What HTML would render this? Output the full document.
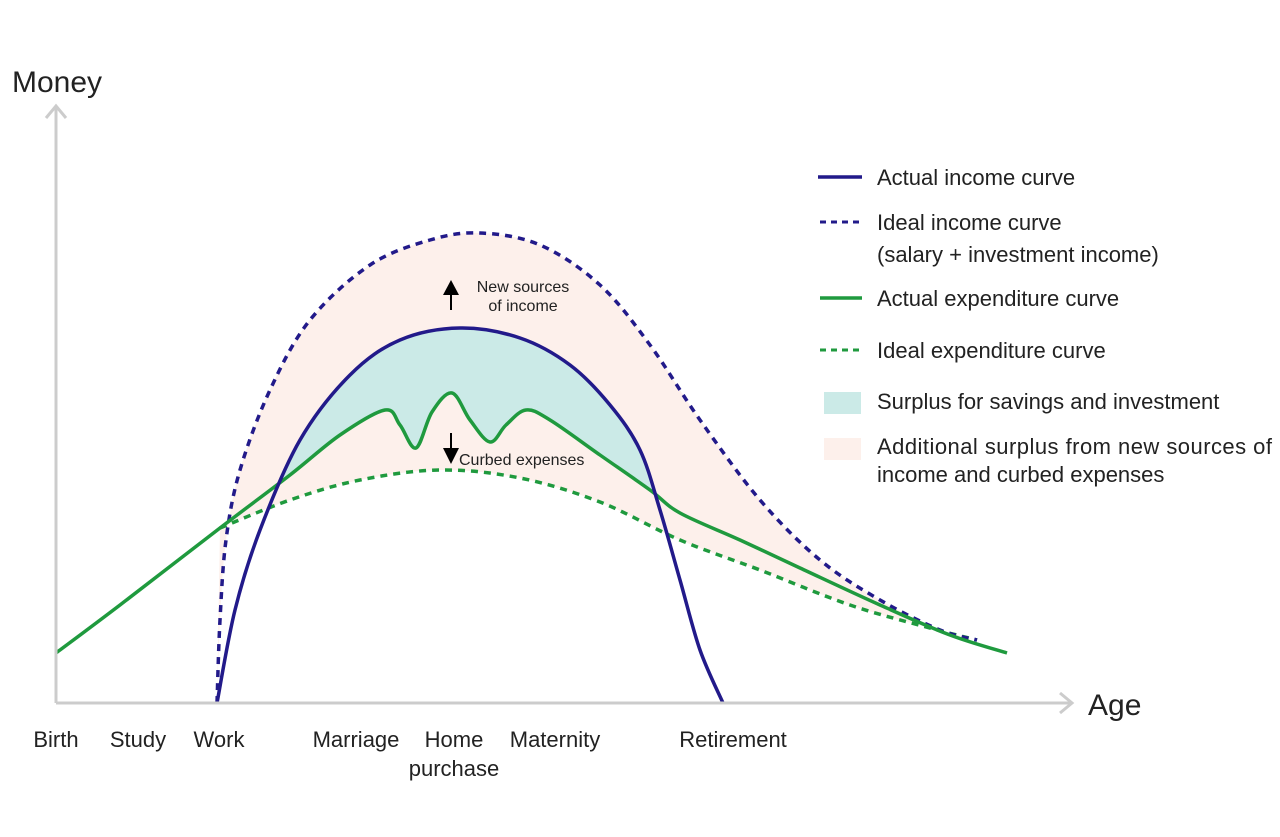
<!DOCTYPE html>
<html><head><meta charset="utf-8"><style>
html,body{margin:0;padding:0;background:#fff;}
svg{display:block;font-family:"Liberation Sans",sans-serif;}
</style></head><body>
<svg id="chart" width="1280" height="837" viewBox="0 0 1280 837" xmlns="http://www.w3.org/2000/svg">
<defs>
<clipPath id="aboveExp"><path id="aboveExpPath"/></clipPath>
</defs>
<g id="fills"></g>
<g id="lines"></g>
<g stroke="#cccccc" stroke-width="3" fill="none">
<path d="M56,703 V108 M46,118 L56,106 L66,118"/>
<path d="M56,703 H1072 M1060,693 L1072,703 L1060,713"/>
</g>
<text x="12" y="92" font-size="30" fill="#222">Money</text>
<text x="1088" y="715" font-size="30" fill="#222">Age</text>
<g id="ticks" font-size="22" fill="#222" text-anchor="middle"></g>
<g>
<path d="M451,310 V290" stroke="#000" stroke-width="2"/>
<path d="M443,295 L451,280 L459,295 Z" fill="#000"/>
<text x="523" y="292" font-size="16" text-anchor="middle" fill="#222">New sources</text>
<text x="523" y="311" font-size="16" text-anchor="middle" fill="#222">of income</text>
</g>
<g>
<path d="M451,433 V450" stroke="#000" stroke-width="2"/>
<path d="M443,448 L451,464 L459,448 Z" fill="#000"/>
<text x="459" y="465" font-size="16" fill="#222">Curbed expenses</text>
</g>
<g font-size="22" fill="#222">
<line x1="818" y1="177" x2="862" y2="177" stroke="#221a8a" stroke-width="3.5"/>
<text x="877" y="185">Actual income curve</text>
<line x1="820" y1="222" x2="864" y2="222" stroke="#221a8a" stroke-width="3" stroke-dasharray="6,5"/>
<text x="877" y="230">Ideal income curve</text>
<text x="877" y="262">(salary + investment income)</text>
<line x1="820" y1="298" x2="862" y2="298" stroke="#1f9a3e" stroke-width="3.5"/>
<text x="877" y="306">Actual expenditure curve</text>
<line x1="820" y1="350" x2="864" y2="350" stroke="#1f9a3e" stroke-width="3" stroke-dasharray="6,5"/>
<text x="877" y="358">Ideal expenditure curve</text>
<rect x="824" y="392" width="37" height="22" fill="#cbeae7"/>
<text x="877" y="409">Surplus for savings and investment</text>
<rect x="824" y="438" width="37" height="22" fill="#fdf0eb"/>
<text x="877" y="454" textLength="395">Additional surplus from new sources of</text>
<text x="877" y="482">income and curbed expenses</text>
</g>
</svg>
<script>
// data units: x = age position, y = money level
const tickLabels = ["Birth","Study","Work","Marriage","Home","Maternity","Retirement"];
const tickPos = [0,82,163,300,398,499,677];
const actualIncomeX = [161,179,204,244,294,344,404,464,514,554,584,604,624,644,667];
const actualIncomeY = [0,93,173,263,328,363,375,365,338,298,253,193,123,53,0];
const idealIncomeX = [161,164,170,184,214,254,314,374,424,484,544,594,644,704,764,824,884,921];
const idealIncomeY = [0,83,163,233,313,383,438,463,470,458,418,358,283,203,143,103,73,63];
const actualExpX = [0,64,164,234,284,329,344,360,376,396,414,434,450,470,494,544,594,624,684,744,824,894,951];
const actualExpY = [50,98,175,228,268,293,278,255,291,310,283,261,278,293,283,248,213,190,163,135,98,68,50];
const idealExpX = [164,234,304,384,464,544,624,704,794,874,921];
const idealExpY = [175,203,223,233,225,201,163,133,98,75,63];

const X0=56, Y0=703;
const xs = v => X0 + v;
const ys = v => Y0 - v;
function pts(xa,ya){return xa.map((x,i)=>[xs(x),ys(ya[i])]);}
function smooth(p){
  let d=`M${p[0][0]},${p[0][1]}`;
  for(let i=0;i<p.length-1;i++){
    const p0=p[Math.max(i-1,0)],p1=p[i],p2=p[i+1],p3=p[Math.min(i+2,p.length-1)];
    const c1=[p1[0]+(p2[0]-p0[0])/6,p1[1]+(p2[1]-p0[1])/6];
    const c2=[p2[0]-(p3[0]-p1[0])/6,p2[1]-(p3[1]-p1[1])/6];
    d+=` C${c1[0]},${c1[1]} ${c2[0]},${c2[1]} ${p2[0]},${p2[1]}`;
  }
  return d;
}
const NS="http://www.w3.org/2000/svg";
const fills=document.getElementById('fills'), lines=document.getElementById('lines');
const ai=pts(actualIncomeX,actualIncomeY), ii=pts(idealIncomeX,idealIncomeY),
      ae=pts(actualExpX,actualExpY), ie=pts(idealExpX,idealExpY);

// pink: between ideal income and ideal expenditure
const pinkD = smooth(ii) + " L" + smooth(ie.slice().reverse()).slice(1) + " Z";
const pink=document.createElementNS(NS,'path');


pink.setAttribute('d',pinkD);pink.setAttribute('fill','#fdf0eb');
fills.appendChild(pink);

// cyan: under actual income, above actual expenditure
document.getElementById('aboveExpPath').setAttribute('d', smooth(ae)+` L${ae[ae.length-1][0]},0 L${ae[0][0]},0 Z`);
const cyan=document.createElementNS(NS,'path');


cyan.setAttribute('d',smooth(ai)+' Z');cyan.setAttribute('fill','#cbeae7');
cyan.setAttribute('clip-path','url(#aboveExp)');
fills.appendChild(cyan);

function line(p,name,color,dash){
  const el=document.createElementNS(NS,'path');
  
  
  el.setAttribute('d',smooth(p));el.setAttribute('fill','none');
  el.setAttribute('stroke',color);el.setAttribute('stroke-width','3.5');
  if(dash)el.setAttribute('stroke-dasharray','7,6');
  lines.appendChild(el);
}
line(ie,'ideal-expenditure-curve','#1f9a3e',true);
line(ii,'ideal-income-curve','#221a8a',true);
line(ae,'actual-expenditure-curve','#1f9a3e',false);
line(ai,'actual-income-curve','#221a8a',false);

const ticks=document.getElementById('ticks');
tickLabels.forEach((t,i)=>{
  const el=document.createElementNS(NS,'text');
  
  
  el.setAttribute('x',xs(tickPos[i]));el.setAttribute('y',747);
  el.textContent=t;ticks.appendChild(el);
});
const p2=document.createElementNS(NS,'text');


p2.setAttribute('x',xs(tickPos[4]));p2.setAttribute('y',776);
p2.textContent='purchase';ticks.appendChild(p2);
</script>
</body></html>
